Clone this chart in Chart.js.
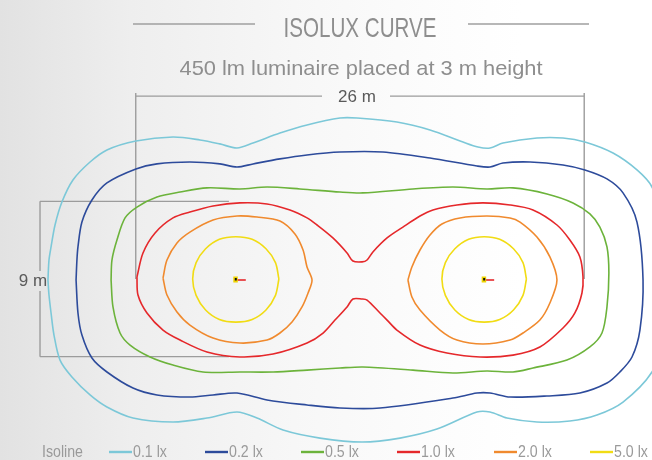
<!DOCTYPE html>
<html>
<head>
<meta charset="utf-8">
<script src="https://cdn.jsdelivr.net/npm/chart.js@4.4.1/dist/chart.umd.min.js"></script>
<style>
  html, body { margin: 0; padding: 0; }
  body {
    width: 652px; height: 460px; overflow: hidden;
    background: linear-gradient(to right, #e2e2e2 0%, #eeeeee 20%, #f7f7f7 45%, #fcfcfc 65%, #ffffff 80%);
  }
  canvas { display: block; }
</style>
</head>
<body>
<canvas id="isolux" width="652" height="460"></canvas>
<script>
// isolines in metres, origin midway between the two luminaires
var lx01 = [[-18.09,-0.06],[-18.03,1.10],[-17.91,1.86],[-17.68,3.13],[-17.28,4.46],[-16.64,5.74],[-15.65,6.78],
  [-14.67,7.48],[-12.99,8.00],[-10.84,8.23],[-9.28,8.06],[-8.12,7.83],[-7.13,7.59],[-6.20,7.88],[-4.64,8.46],
  [-3.07,8.93],[-1.16,9.33],[-0.17,9.33],[2.14,9.10],[4.06,8.64],[5.97,7.94],[6.84,7.65],[7.54,7.59],[8.29,7.88],
  [10.26,8.17],[11.77,8.17],[13.04,7.94],[14.67,7.30],[16.06,6.32],[16.93,5.33],[17.51,3.42],[17.80,0],
  [17.51,-3.54],[16.93,-5.39],[15.25,-7.13],[13.74,-7.88],[12.17,-8.23],[10.26,-8.29],[8.52,-8.06],[7.54,-7.71],
  [6.78,-7.71],[4.46,-8.70],[2.32,-9.22],[0.12,-9.45],[-2.32,-9.22],[-4.46,-8.75],[-5.97,-8.06],[-7.13,-7.71],
  [-8.87,-8.06],[-10.84,-8.29],[-13.16,-8.06],[-14.67,-7.42],[-15.65,-6.72],[-16.70,-5.68],[-17.39,-4.70],
  [-17.74,-3.25],[-17.91,-1.97],[-18.03,-0.93],[-18.09,-0.06]];

var lx02 = [[-16.46,-0.06],[-16.41,1.10],[-16.35,1.86],[-16.12,3.30],[-15.54,4.58],[-14.67,5.57],[-12.99,6.38],
  [-11.77,6.67],[-9.86,6.78],[-8.12,6.67],[-7.13,6.49],[-6.20,6.67],[-4.64,6.96],[-3.07,7.19],[-1.16,7.36],
  [1.33,7.36],[4.06,7.01],[6.78,6.55],[7.54,6.49],[8.29,6.72],[9.86,6.78],[11.77,6.61],[13.04,6.32],[14.32,5.80],
  [15.25,4.99],[16.06,3.30],[16.41,-0.06],[16.23,-2.96],[15.77,-4.52],[15.07,-5.39],[14.32,-6.03],[12.75,-6.61],
  [10.84,-6.78],[8.70,-6.84],[7.54,-6.61],[6.78,-6.61],[5.39,-6.90],[1.16,-7.48],[-1.16,-7.48],[-3.07,-7.30],
  [-5.39,-7.01],[-7.13,-6.61],[-8.52,-6.72],[-9.86,-6.84],[-11.77,-6.72],[-13.16,-6.32],[-14.67,-5.39],
  [-15.54,-4.58],[-16.12,-3.25],[-16.35,-1.97],[-16.46,-0.06]];

var lx05 = [[-14.43,-0.06],[-14.38,1.10],[-14.09,2.26],[-13.62,3.54],[-12.93,4.17],[-11.77,4.75],[-10.43,5.04],
  [-8.87,5.28],[-6.96,5.22],[-5.39,5.33],[-3.48,5.22],[-1.16,5.04],[0.17,4.99],[3.07,5.22],[5.39,5.33],[7.36,5.22],
  [8.87,5.28],[10.84,4.93],[12.35,4.41],[13.33,3.77],[13.91,3.01],[14.32,1.86],[14.43,0.35],[14.32,-1.62],
  [14.03,-3.13],[13.33,-3.94],[12.00,-4.70],[10.03,-5.16],[8.87,-5.39],[7.36,-5.33],[5.39,-5.45],[3.07,-5.28],
  [0.17,-5.10],[-1.16,-5.16],[-3.07,-5.28],[-5.04,-5.39],[-6.96,-5.39],[-9.10,-5.39],[-10.84,-4.99],[-12.17,-4.52],
  [-13.33,-3.83],[-13.91,-3.13],[-14.32,-1.62],[-14.43,-0.06]];

var lx10 = [[-12.93,0.12],[-12.58,1.51],[-11.88,2.67],[-10.84,3.54],[-9.86,3.88],[-8.52,4.23],[-6.96,4.41],
  [-5.39,4.35],[-4.06,4.00],[-3.07,3.54],[-2.49,3.13],[-1.57,2.38],[-0.75,1.51],[-0.41,1.04],[0.12,0.99],
  [0.41,1.10],[0.75,1.57],[1.57,2.38],[2.49,3.01],[3.48,3.65],[4.23,4.00],[5.62,4.29],[7.13,4.41],[8.70,4.29],
  [10.03,4.00],[11.42,3.13],[12.17,2.26],[12.75,1.28],[12.93,0.12],[12.87,-0.81],[12.46,-1.97],[11.77,-2.84],
  [10.43,-3.94],[8.87,-4.41],[6.96,-4.52],[5.04,-4.29],[3.48,-3.83],[2.14,-2.96],[1.57,-2.38],[1.16,-1.97],
  [0.41,-1.22],[0.12,-1.16],[-0.41,-1.16],[-0.75,-1.62],[-1.45,-2.38],[-2.14,-3.13],[-3.07,-3.71],[-5.04,-4.35],
  [-6.96,-4.52],[-8.87,-4.23],[-10.43,-3.54],[-11.42,-2.96],[-12.35,-1.97],[-12.87,-0.93],[-12.93,0.12]];

var lx20a = [[-11.42,0.06],[-11.19,1.10],[-10.61,2.09],[-9.86,2.72],[-8.52,3.42],[-7.13,3.65],[-5.97,3.59],
  [-4.64,3.36],[-3.77,2.61],[-3.30,1.68],[-3.07,0.70],[-2.78,-0.06],[-3.01,-0.81],[-3.36,-1.62],[-3.94,-2.49],
  [-4.64,-3.13],[-5.39,-3.54],[-6.96,-3.71],[-8.52,-3.42],[-9.86,-2.67],[-10.61,-1.91],[-11.19,-0.93],[-11.42,0.06]];

var lx20b = [[2.78,-0.06],[3.01,0.70],[3.48,1.68],[4.06,2.55],[4.75,3.19],[5.80,3.54],[7.36,3.65],[8.70,3.54],
  [9.28,3.30],[10.26,2.43],[11.01,1.28],[11.42,-0.06],[11.01,-1.39],[10.43,-2.38],[9.45,-3.13],[8.70,-3.54],
  [7.13,-3.77],[5.62,-3.54],[4.64,-2.96],[3.48,-1.80],[3.01,-1.04],[2.78,-0.06]];

var lx50a = [[-4.70,0],[-4.90,0.95],[-5.45,1.75],[-6.25,2.30],[-7.20,2.45],[-8.15,2.30],[-8.95,1.75],[-9.50,0.95],
  [-9.70,0],[-9.50,-0.95],[-8.95,-1.80],[-8.15,-2.35],[-7.20,-2.50],[-6.25,-2.35],[-5.45,-1.80],[-4.90,-0.95],[-4.70,0]];

var lx50b = [[9.65,0],[9.45,0.95],[8.90,1.75],[8.10,2.30],[7.20,2.45],[6.30,2.30],[5.50,1.75],[4.95,0.95],
  [4.75,0],[4.95,-0.95],[5.50,-1.80],[6.30,-2.35],[7.20,-2.50],[8.10,-2.35],[8.90,-1.80],[9.45,-0.95],[9.65,0]];

var levels = ['0.1 lx', '0.2 lx', '0.5 lx', '1.0 lx', '2.0 lx', '5.0 lx'];
var levelColors = ['#7cc8d8', '#2d4b9b', '#6cb33b', '#e5282b', '#f08a2e', '#f1dc14'];

var lumX = [-7.2, 7.2];
var lumY = [0, 0];

// dimension lines (m)
var spanX = [-13, 13];       // 26 m
var spanY = [-4.5, 4.5];     // 9 m
var dimLineY = 10.6;
var dimLineX = -18.55;
var dimTickEndX = -7.6;

function pts(arr) {
  return arr.map(function (p) { return { x: p[0], y: p[1] }; });
}

function contour(arr, idx) {
  return {
    label: levels[idx],
    data: pts(arr),
    showLine: true,
    borderColor: levelColors[idx],
    backgroundColor: levelColors[idx],
    borderWidth: 1.6,
    pointRadius: 0,
    tension: 0.3,
    fill: false,
  };
}

function squeezed(ctx, text, x, y, sx, align) {
  ctx.save();
  ctx.translate(x, y);
  ctx.scale(sx, 1);
  ctx.textAlign = align;
  ctx.fillText(text, 0, 0);
  ctx.restore();
}

function fitWidth(ctx, text, w) {
  return w / ctx.measureText(text).width;
}

var decorations = {
  id: 'decorations',
  beforeDatasetsDraw(chart) {
    var ctx = chart.ctx, x = chart.scales.x, y = chart.scales.y;
    var xl = x.getPixelForValue(spanX[0]), xr = x.getPixelForValue(spanX[1]);
    var yd = y.getPixelForValue(dimLineY), y0 = y.getPixelForValue(0);
    var yt = y.getPixelForValue(spanY[1]), yb = y.getPixelForValue(spanY[0]);
    var xd = x.getPixelForValue(dimLineX), xe = x.getPixelForValue(dimTickEndX);
    ctx.save();
    ctx.strokeStyle = '#9c9c9c';
    ctx.lineWidth = 1.4;
    ctx.beginPath();
    // 26 m
    ctx.moveTo(xl, yd - 3); ctx.lineTo(xl, y0);
    ctx.moveTo(xr, yd - 3); ctx.lineTo(xr, y0);
    ctx.moveTo(xl, yd); ctx.lineTo(322, yd);
    ctx.moveTo(390, yd); ctx.lineTo(xr, yd);
    // 9 m
    ctx.moveTo(xd, yt); ctx.lineTo(xe, yt);
    ctx.moveTo(xd, yb); ctx.lineTo(xe, yb);
    ctx.moveTo(xd, yt); ctx.lineTo(xd, y0 - 8);
    ctx.moveTo(xd, y0 + 12); ctx.lineTo(xd, yb);
    ctx.stroke();

    ctx.fillStyle = '#5a5a5a';
    ctx.font = '17px "Liberation Sans", Arial, sans-serif';
    ctx.textBaseline = 'middle';
    ctx.textAlign = 'center';
    ctx.fillText('26 m', 357, yd + 1);
    ctx.fillText('9 m', 33, y0 + 2);
    ctx.restore();
  },
  afterDatasetsDraw(chart) {
    var ctx = chart.ctx, x = chart.scales.x, y = chart.scales.y;
    ctx.save();
    for (var i = 0; i < lumX.length; i++) {
      var px = x.getPixelForValue(lumX[i]), py = y.getPixelForValue(lumY[i]);
      ctx.strokeStyle = '#e5282b';
      ctx.lineWidth = 1.6;
      ctx.beginPath();
      ctx.moveTo(px + 1, py + 1); ctx.lineTo(px + 10, py + 1);
      ctx.stroke();
      ctx.fillStyle = '#f0d400';
      ctx.fillRect(px - 2.5, py - 2.5, 4.5, 6);
      ctx.fillStyle = '#111';
      ctx.fillRect(px - 1, py - 1, 2, 2.5);
    }
    ctx.restore();
  },
  afterDraw(chart) {
    var ctx = chart.ctx;
    ctx.save();
    ctx.textBaseline = 'alphabetic';

    // title
    ctx.strokeStyle = '#a0a0a0';
    ctx.lineWidth = 1.5;
    ctx.beginPath();
    ctx.moveTo(133, 24); ctx.lineTo(255, 24);
    ctx.moveTo(468, 24); ctx.lineTo(589, 24);
    ctx.stroke();

    ctx.fillStyle = '#8e8e8e';
    ctx.font = '300 28px "Liberation Sans Narrow", "Liberation Sans", Arial, sans-serif';
    squeezed(ctx, 'ISOLUX CURVE', 360, 37, fitWidth(ctx, 'ISOLUX CURVE', 153), 'center');
    ctx.font = '300 21px "Liberation Sans Narrow", "Liberation Sans", Arial, sans-serif';
    var sub = '450 lm luminaire placed at 3 m height';
    squeezed(ctx, sub, 361, 75, fitWidth(ctx, sub, 363), 'center');

    // legend
    ctx.font = '17px "Liberation Sans Narrow", "Liberation Sans", Arial, sans-serif';
    ctx.fillStyle = '#9a9a9a';
    var sx = fitWidth(ctx, 'Isoline', 41);
    squeezed(ctx, 'Isoline', 42, 457, sx, 'left');
    var lineStarts = [109, 205, 301, 397, 494, 590];
    for (var i = 0; i < levels.length; i++) {
      ctx.strokeStyle = levelColors[i];
      ctx.lineWidth = 2.4;
      ctx.beginPath();
      ctx.moveTo(lineStarts[i], 452); ctx.lineTo(lineStarts[i] + 23, 452);
      ctx.stroke();
      squeezed(ctx, levels[i], lineStarts[i] + 24, 457, sx, 'left');
    }
    ctx.restore();
  }
};

new Chart(document.getElementById('isolux').getContext('2d'), {
  type: 'scatter',
  data: {
    datasets: [
      contour(lx01, 0),
      contour(lx02, 1),
      contour(lx05, 2),
      contour(lx10, 3),
      contour(lx20a, 4),
      contour(lx20b, 4),
      contour(lx50a, 5),
      contour(lx50b, 5),
    ],
  },
  options: {
    responsive: false,
    animation: false,
    layout: { padding: 0 },
    plugins: {
      legend: { display: false },
      tooltip: { enabled: false },
    },
    scales: {
      x: { type: 'linear', min: -20.87, max: 16.93, display: false },
      y: { type: 'linear', min: -10.49, max: 16.17, display: false },
    },
  },
  plugins: [decorations],
});
</script>
</body>
</html>
